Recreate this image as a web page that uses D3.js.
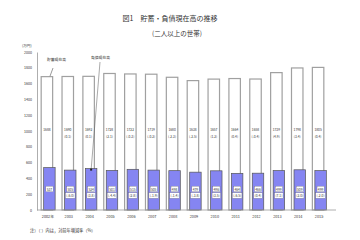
<!DOCTYPE html>
<html>
<head>
<meta charset="utf-8">
<script src="https://cdn.jsdelivr.net/npm/d3@7"></script>
<style>
  body { margin: 0; background: #fff; }
  text { font-family: "Noto Sans CJK JP", "Noto Sans", sans-serif; fill: #333; }
</style>
</head>
<body>
<svg width="360" height="240"></svg>
<script>
// data
var years = ["2002年","2003","2004","2005","2006","2007","2008","2009","2010","2011","2012","2013","2014","2015"];
var savings = [1688,1690,1692,1728,1722,1719,1680,1638,1657,1664,1658,1739,1798,1805];
var savingsChg = [null,"0.1","0.1","2.1","-0.3","-0.2","-2.3","-2.5","1.2","0.4","-0.4","4.9","3.4","0.4"];
var debt = [537,505,524,501,515,505,498,479,496,464,466,499,509,499];
var debtChg = [null,"-6.0","3.8","-4.4","2.8","-1.9","-1.4","-3.8","3.5","-6.5","0.4","7.1","2.0","-2.0"];
var yTicks = [0,200,400,600,800,1000,1200,1400,1600,1800,2000];

var svg = d3.select("svg");

var x = d3.scaleBand().domain(years).range([37, 328]).paddingInner(0.45).paddingOuter(0.2);
var y = d3.scaleLinear().domain([0, 2000]).range([210, 52]);

// titles
svg.append("text").attr("x", 170).attr("y", 21).attr("text-anchor", "middle")
  .attr("font-size", 7).text("図1　貯蓄・負債現在高の推移");
svg.append("text").attr("x", 177).attr("y", 36).attr("text-anchor", "middle")
  .attr("font-size", 6.5).text("(二人以上の世帯)");
svg.append("text").attr("x", 22).attr("y", 47).attr("font-size", 3.6).text("(万円)");

// y axis
var yAxis = d3.axisLeft(y).tickValues(yTicks).tickFormat(d3.format("d")).tickSize(0).tickPadding(5);
var ga = svg.append("g").attr("transform", "translate(37,0)").call(yAxis);
ga.select(".domain").attr("stroke", "#999").attr("stroke-width", 0.8);
ga.selectAll("text").attr("font-size", 3.6).attr("fill", "#444");

// savings bars
var bw = x.bandwidth();
svg.append("g").selectAll("rect").data(savings).join("rect")
  .attr("x", (d, i) => x(years[i]))
  .attr("y", d => y(d))
  .attr("width", bw)
  .attr("height", d => y(0) - y(d))
  .attr("fill", "#fff").attr("stroke", "#a0a0a0").attr("stroke-width", 1.2);

// debt bars
var off = 2.5;
svg.append("g").selectAll("rect").data(debt).join("rect")
  .attr("x", (d, i) => x(years[i]) + off)
  .attr("y", d => y(d))
  .attr("width", bw)
  .attr("height", d => y(0) - y(d))
  .attr("fill", "#8585f2").attr("stroke", "#555").attr("stroke-width", 0.7);

// x axis line
svg.append("line").attr("x1", 37).attr("x2", 336).attr("y1", 210).attr("y2", 210)
  .attr("stroke", "#999").attr("stroke-width", 0.8);

// year labels
svg.append("g").selectAll("text").data(years).join("text")
  .attr("x", d => x(d) + bw / 2 + 1)
  .attr("y", 217.5)
  .attr("text-anchor", "middle").attr("font-size", 3.8)
  .text(d => d);

// savings labels
var sl = svg.append("g");
savings.forEach(function(v, i) {
  var cx = x(years[i]) + bw / 2;
  sl.append("text").attr("x", cx).attr("y", 131).attr("text-anchor", "middle")
    .attr("font-size", 3.3).attr("fill", "#222").text(v);
  if (savingsChg[i] !== null)
    sl.append("text").attr("x", cx).attr("y", 138).attr("text-anchor", "middle")
      .attr("font-size", 3.3).attr("fill", "#222").text("(" + savingsChg[i] + ")");
});

// debt labels with white boxes
var dl = svg.append("g");
function boxed(tx, ty, str) {
  var t = dl.append("text").attr("x", tx).attr("y", ty).attr("text-anchor", "middle")
    .attr("font-size", 3.3).attr("fill", "#222").text(str);
  var b = t.node().getBBox();
  dl.insert("rect", "text").attr("x", b.x - 0.8).attr("y", b.y - 0.3)
    .attr("width", b.width + 1.6).attr("height", b.height + 0.6)
    .attr("fill", "#fff").attr("stroke", "#666").attr("stroke-width", 0.3);
}
debt.forEach(function(v, i) {
  var cx = x(years[i]) + off + bw / 2;
  boxed(cx, 190.5, v);
  if (debtChg[i] !== null) boxed(cx, 197, "(" + debtChg[i] + ")");
});

// annotations
svg.append("text").attr("x", 47).attr("y", 61).attr("font-size", 3.8).attr("fill", "#111").text("貯蓄現在高");
svg.append("line").attr("x1", 53).attr("y1", 68).attr("x2", 50).attr("y2", y(savings[0]) - 0.5)
  .attr("stroke", "#333").attr("stroke-width", 0.5);
svg.append("text").attr("x", 91).attr("y", 59).attr("font-size", 3.8).attr("fill", "#111").text("負債現在高");
var ax = x(years[2]) + off + bw / 2;
svg.append("line").attr("x1", 100).attr("y1", 62).attr("x2", ax).attr("y2", y(debt[2]) + 1)
  .attr("stroke", "#555").attr("stroke-width", 0.5);
svg.append("rect").attr("x", ax - 1).attr("y", y(debt[2])).attr("width", 2).attr("height", 2)
  .attr("fill", "#222");

// footnote
svg.append("text").attr("x", 30).attr("y", 232).attr("font-size", 4.2)
  .text("注）（ ）内は，対前年増減率（%）");
</script>
</body>
</html>
